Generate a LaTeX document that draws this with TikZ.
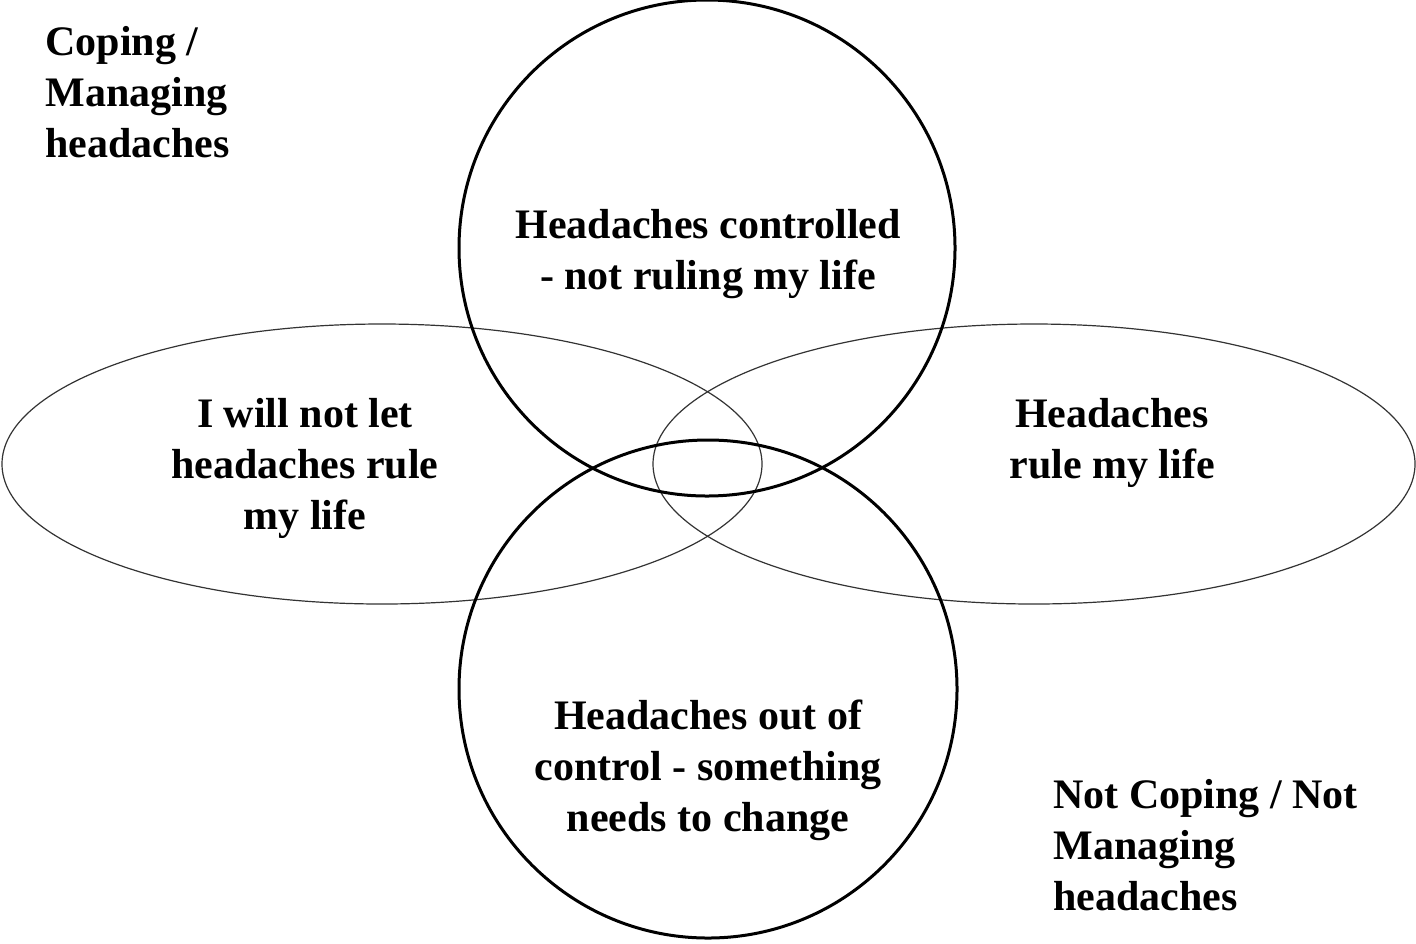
\documentclass[tikz,border=0pt]{standalone}
\usepackage{fontspec}
\setmainfont{Liberation Serif}
\begin{document}
\begin{tikzpicture}[x=.5pt,y=-.5pt,line join=round,line cap=round,
	font=\fontsize{21}{25.5}\selectfont\bfseries,
	ring/.style={line width=1.5pt},
	oval/.style={line width=.6pt,black!80},
	lbl/.style={inner sep=0pt,align=center,anchor=base},
	side/.style={inner sep=0pt,align=left,anchor=base west}]
	%========================
	\useasboundingbox (0,0) rectangle (1416,943);
	\draw[oval] (382,464) ellipse [x radius=380,y radius=140];
	\draw[oval] (1034,464) ellipse [x radius=381,y radius=140];
	\draw[ring] (707,248) circle [radius=248];
	\draw[ring] (708,689) circle [radius=249];
	%========================
	\node[side] (cope) at (45,157) {Coping /\\Managing\\headaches};
	\node[side] (notcope) at (1053,910) {Not Coping / Not\\Managing\\headaches};
	\node[lbl] (control) at (708,289) {Headaches controlled\\- not ruling my life};
	\node[lbl] (willnot) at (305,529) {I will not let\\headaches rule\\my life};
	\node[lbl] (rule) at (1112,478) {Headaches\\rule my life};
	\node[lbl] (outof) at (708,831) {Headaches out of\\control - something\\needs to change};
	%========================
\end{tikzpicture}
\end{document}
